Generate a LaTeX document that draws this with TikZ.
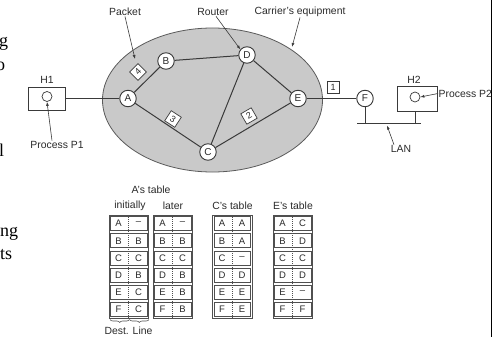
\documentclass[tikz,border=0pt]{standalone}
\usepackage{fontspec}
\setmainfont{Liberation Sans}
\newfontfamily\seriffrag{Liberation Serif}
\usetikzlibrary{arrows.meta,decorations.pathreplacing}
\definecolor{linec}{HTML}{3A3A3A}
\definecolor{txtc}{HTML}{2A2A2A}
\definecolor{ellfill}{HTML}{C9C9C9}
\definecolor{ellline}{HTML}{5A5A5A}
\definecolor{tabc}{HTML}{505050}
\begin{document}
\begin{tikzpicture}[x=1pt,y=-1pt,
  router/.style={circle,draw=linec,fill=white,line width=0.9pt,minimum size=16.5pt,inner sep=0pt,text=txtc,font=\fontsize{10}{11}\selectfont},
  pkt/.style={draw=linec,fill=white,line width=0.7pt,minimum size=12pt,inner sep=0pt,text=txtc,font=\fontsize{9}{10}\selectfont},
  lbl/.style={inner sep=0.5pt,text=txtc,font=\fontsize{10.4}{12}\selectfont},
  callout/.style={draw=linec,line width=0.6pt,-{Latex[length=4pt,width=3pt]}},
  link/.style={draw=linec,line width=1pt},
  hostbox/.style={draw=linec,fill=white,line width=0.7pt,inner sep=0pt},
  proc/.style={circle,draw=linec,line width=0.7pt,minimum size=10pt,inner sep=0pt},
  frag/.style={inner sep=0pt,anchor=base west,font=\seriffrag\fontsize{18}{22}\selectfont},
  cell/.style={inner sep=0pt,text=txtc,font=\fontsize{9.5}{10}\selectfont},
  tabrow/.style={draw=tabc,line width=0.6pt},
  divider/.style={draw=tabc,line width=0.6pt,dash pattern=on 1pt off 1pt}
]
\useasboundingbox (0,0) rectangle (493,337);
\fill[white] (0,0) rectangle (493,337);

% cropped page text at the left edge
\node[frag] (fg) at (-1,47) {g};
\node[frag] (fo) at (-4,71) {o};
\node[frag] (fl) at (-1,157) {l};
\node[frag] (fng) at (0,236) {ng};
\node[frag] (fts) at (0,259) {ts};
% page edge on the right
\draw[black,line width=1.5pt] (491.5,0) -- (491.5,337);

% carrier cloud
\draw[fill=ellfill,draw=ellline,line width=0.8pt] (212.5,100) ellipse [x radius=110pt,y radius=72pt];

% routers
\node[router] (A) at (128,98.5) {A};
\node[router] (B) at (166,61) {B};
\node[router] (D) at (247,55) {D};
\node[router] (E) at (298,98.5) {E};
\node[router] (C) at (208,152) {C};
\node[router] (F) at (365,98.5) {F};

\draw[link] (A) -- (B);
\draw[link] (B) -- (D);
\draw[link] (D) -- (E);
\draw[link] (D) -- (C);
\draw[link] (A) -- (C);
\draw[link] (C) -- (E);
\draw[link] (E) -- (F);

% packets
\node[pkt,rotate=45] (p4) at (138,72) {4};
\node[pkt,rotate=-33] (p3) at (173,119) {3};
\node[pkt,rotate=30] (p2) at (249,116) {2};
\node[pkt] (p1) at (333,87) {1};

% host H1
\node[hostbox,minimum width=37pt,minimum height=23pt] (H1) at (46.5,98.5) {};
\node[proc] (h1c) at (47,96.5) {};
\node[lbl] (H1l) at (47,79.5) {H1};
\draw[link] (H1.east) -- (A);
\node[lbl] (P1) at (57,145) {Process P1};
\draw[callout] ([xshift=-5pt]P1.north) -- (h1c.south);

% host H2 and LAN
\node[hostbox,minimum width=40pt,minimum height=25pt] (H2) at (417,98.5) {};
\node[proc] (h2c) at (415,97) {};
\node[lbl] (H2l) at (414,79.5) {H2};
\node[lbl,anchor=west] (P2) at (438,93.5) {Process P2};
\draw[callout] (P2.west) -- (h2c.east);
\coordinate (busL) at (357,123.5);
\coordinate (busR) at (421,123.5);
\draw[link] (busL) -- (busR);
\draw[link] (F.south) -- (F.south |- busL);
\draw[link] ([xshift=-2pt]H2.south) -- ([xshift=-2pt]H2.south |- busL);
\node[lbl] (LAN) at (401,149) {LAN};
\coordinate (lant) at (387,125.5);
\draw[callout] ([xshift=-7pt]LAN.north) -- (lant);

% callouts at the top
\node[lbl] (Packet) at (125,12) {Packet};
\coordinate (pkt4) at (135,59);
\draw[callout] (Packet.south) -- (pkt4);
\node[lbl] (Router) at (213,12) {Router};
\draw[callout] ([xshift=3pt]Router.south) -- (D.140);
\node[lbl] (Carrier) at (300,12) {Carrier's equipment};
\coordinate (ell) at (292,47);
\draw[callout] (Carrier.south) -- (ell);

% routing tables
\node[lbl] (Ahdr) at (151,190) {A's table};
\node[lbl] (ini) at (130,205.5) {initially};
\node[lbl] (lat) at (173,205.5) {later};
\node[lbl] (Chdr) at (232.5,205.5) {C's table};
\node[lbl] (Ehdr) at (293,205.5) {E's table};

\foreach \t/\x/\entries in {
  1/109/{A/--,B/B,C/C,D/B,E/C,F/C},
  2/153/{A/--,B/B,C/C,D/B,E/B,F/B},
  3/212.5/{A/A,B/A,C/--,D/D,E/E,F/E},
  4/273/{A/C,B/D,C/C,D/D,E/--,F/F}}{
  \draw[tabrow] (\x,215) rectangle ++(39.5,103);
  \foreach \d/\l [count=\i from 0] in \entries {
    \pgfmathsetmacro{\ytop}{215+17.1667*\i}
    \draw[tabrow] (\x+1.6,\ytop+1.6) rectangle (\x+37.9,\ytop+15.57);
    \node[cell] (t\t d\i) at (\x+9.5,\ytop+8.6) {\d};
    \node[cell] (t\t l\i) at (\x+29.5,\ytop+8.6) {\l};
  }
  \draw[divider] (\x+19.75,215) -- (\x+19.75,318);
}

% braces under A's initial table
\coordinate (bL1) at (110,319.5);
\coordinate (bL2) at (129.5,319.5);
\coordinate (bR2) at (149,319.5);
\draw[draw=tabc,line width=0.6pt,decorate,decoration={brace,amplitude=3pt}] (bL2) -- (bL1);
\draw[draw=tabc,line width=0.6pt,decorate,decoration={brace,amplitude=3pt}] (bR2) -- (bL2);
\node[lbl] (dl) at (128.5,331) {Dest. Line};
\end{tikzpicture}
\end{document}
